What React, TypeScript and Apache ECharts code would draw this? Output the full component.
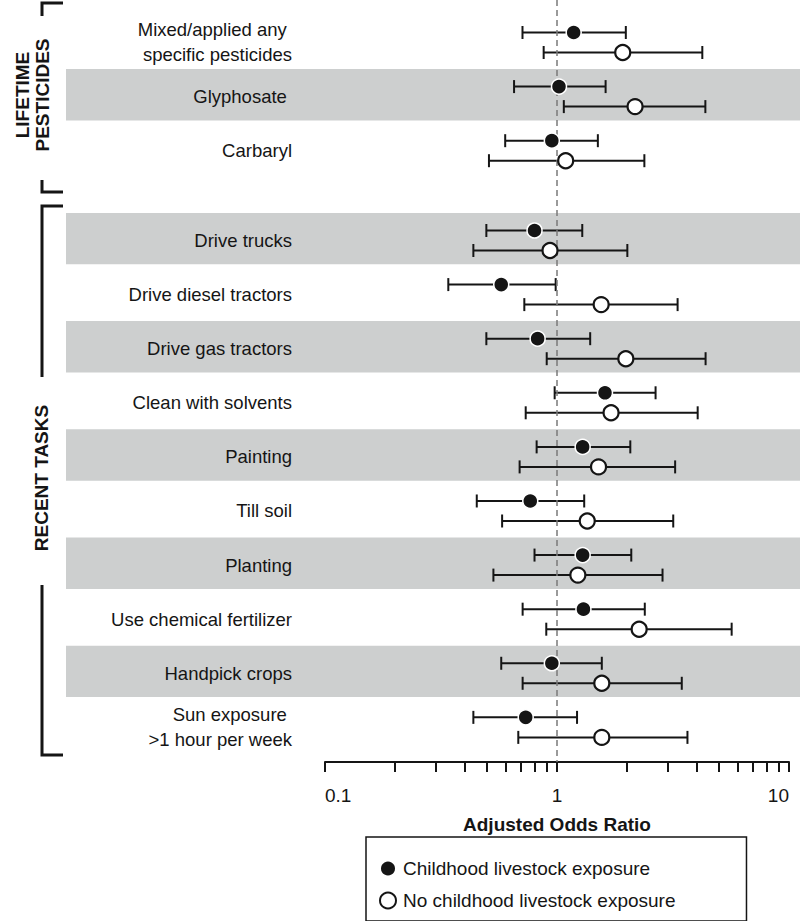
import React, { useEffect, useRef } from "react";
import * as echarts from "echarts";

const categories = [
  "Mixed/applied any\u00a0\nspecific pesticides",
  "Glyphosate\u00a0",
  "Carbaryl",
  "Drive trucks",
  "Drive diesel tractors",
  "Drive gas tractors",
  "Clean with solvents",
  "Painting",
  "Till soil",
  "Planting",
  "Use chemical fertilizer",
  "Handpick crops",
  "Sun exposure\u00a0\n>1 hour per week",
];
const rowPos = [0, 1, 2, 3.66, 4.66, 5.66, 6.66, 7.66, 8.66, 9.66, 10.66, 11.66, 12.66];
const shadedRows = [1, 3, 5, 7, 9, 11];

const childOR = [1.18, 1.02, 0.95, 0.8, 0.575, 0.825, 1.61, 1.29, 0.767, 1.29, 1.3, 0.95, 0.733];
const childLo = [0.71, 0.653, 0.598, 0.496, 0.34, 0.496, 0.977, 0.817, 0.451, 0.8, 0.711, 0.575, 0.436];
const childHi = [1.98, 1.62, 1.5, 1.285, 0.987, 1.39, 2.66, 2.07, 1.31, 2.09, 2.39, 1.56, 1.22];

const noChildOR = [1.92, 2.17, 1.09, 0.933, 1.55, 1.98, 1.71, 1.51, 1.35, 1.23, 2.26, 1.56, 1.56];
const noChildLo = [0.876, 1.07, 0.509, 0.436, 0.723, 0.903, 0.733, 0.69, 0.58, 0.532, 0.899, 0.711, 0.681];
const noChildHi = [4.23, 4.36, 2.38, 2.01, 3.31, 4.37, 4.04, 3.23, 3.17, 2.85, 5.66, 3.45, 3.65];

const tickValues = [0.1, 0.2, 0.3, 0.4, 0.5, 0.6, 0.7, 0.8, 0.9, 1, 2, 3, 4, 5, 6, 7, 8, 9, 10];
const labelValues = [0.1, 1, 10];
const seriesNames = ["Childhood livestock exposure", "No childhood livestock exposure"];

const OFFSET = 0.185;
const FONT = "'Liberation Sans', Arial, Helvetica, sans-serif";
const INK = "#151515";

export default function App() {
  const ref = useRef<HTMLDivElement>(null);
  useEffect(() => {
    if (!ref.current) return;
    const chart = echarts.init(ref.current, null, { renderer: "svg" });

    const errRender = (params: any, api: any) => {
      const lo = api.coord([api.value(0), api.value(2)]);
      const hi = api.coord([api.value(1), api.value(2)]);
      const h = 6.5;
      const st = { stroke: INK, lineWidth: 2 };
      return {
        type: "group",
        children: [
          { type: "line", shape: { x1: lo[0], y1: lo[1], x2: hi[0], y2: hi[1] }, style: st },
          { type: "line", shape: { x1: lo[0], y1: lo[1] - h, x2: lo[0], y2: lo[1] + h }, style: st },
          { type: "line", shape: { x1: hi[0], y1: hi[1] - h, x2: hi[0], y2: hi[1] + h }, style: st },
        ],
      };
    };

    const option: any = {
      animation: false,
      textStyle: { fontFamily: FONT },
      grid: { left: 325, right: 11, top: 0, bottom: 159, containLabel: false },
      xAxis: {
        type: "log",
        logBase: 10,
        min: 0.1,
        max: 10,
        position: "bottom",
        splitLine: { show: false },
        axisLine: { show: true, onZero: false, lineStyle: { color: INK, width: 2 } },
        axisTick: { show: true, length: 10, customValues: tickValues, lineStyle: { color: INK, width: 2 } },
        minorTick: { show: false },
        axisLabel: {
          customValues: labelValues,
          fontSize: 19,
          color: INK,
          margin: 24,
          alignMinLabel: "left",
          alignMaxLabel: "right",
          formatter: (v: number) => String(v),
        },
        name: "Adjusted Odds Ratio",
        nameLocation: "middle",
        nameGap: 53,
        nameTextStyle: { fontSize: 19, fontWeight: "bold", color: INK },
      },
      yAxis: {
        type: "value",
        inverse: true,
        min: -0.7856,
        max: 13.3,
        show: false,
      },
      legend: {
        orient: "vertical",
        left: 366,
        top: 837,
        padding: [22, 71, 11, 13],
        borderColor: INK,
        borderWidth: 1.5,
        itemWidth: 16,
        itemHeight: 16,
        itemGap: 13,
        icon: "circle",
        textStyle: { fontSize: 19, color: INK, padding: [0, 0, 0, 2] },
        data: seriesNames,
      },
      graphic: [
        { type: "polyline", shape: { points: [[42, 16], [42, 3], [63, 3]] }, style: { stroke: INK, lineWidth: 3, fill: null } },
        { type: "polyline", shape: { points: [[42, 180], [42, 192], [63, 192]] }, style: { stroke: INK, lineWidth: 3, fill: null } },
        { type: "polyline", shape: { points: [[63, 206], [42, 206], [42, 377]] }, style: { stroke: INK, lineWidth: 3, fill: null } },
        { type: "polyline", shape: { points: [[42, 585], [42, 755], [63, 755]] }, style: { stroke: INK, lineWidth: 3, fill: null } },
        {
          type: "text",
          x: 32,
          y: 95,
          rotation: Math.PI / 2,
          style: {
            text: "LIFETIME\nPESTICIDES",
            fontSize: 19,
            fontWeight: "bold",
            fontFamily: FONT,
            fill: INK,
            align: "center",
            verticalAlign: "middle",
            lineHeight: 20,
          },
        },
        {
          type: "text",
          x: 41,
          y: 478,
          rotation: Math.PI / 2,
          style: {
            text: "RECENT TASKS",
            fontSize: 19,
            fontWeight: "bold",
            fontFamily: FONT,
            fill: INK,
            align: "center",
            verticalAlign: "middle",
          },
        },
      ],
      series: [
        {
          name: "bands",
          type: "custom",
          z: 0,
          silent: true,
          clip: false,
          encode: { y: 0 },
          data: shadedRows.map((i) => [rowPos[i]]),
          renderItem: (params: any, api: any) => {
            const p = api.value(0);
            const top = api.coord([1, p - 0.51])[1];
            const bot = api.coord([1, p + 0.44])[1];
            const cs = params.coordSys;
            return {
              type: "rect",
              shape: { x: cs.x - 259, y: top, width: cs.width + 259 + 11, height: bot - top },
              style: { fill: "#cdcfcf" },
            };
          },
        },
        {
          name: "labels",
          type: "custom",
          z: 1,
          silent: true,
          clip: false,
          encode: { y: 0 },
          data: rowPos.map((p) => [p]),
          renderItem: (params: any, api: any) => {
            const y = api.coord([1, api.value(0)])[1];
            const cs = params.coordSys;
            return {
              type: "text",
              x: cs.x - 33,
              y: y,
              style: {
                text: categories[params.dataIndex],
                fontSize: 18.5,
                fontFamily: FONT,
                fill: INK,
                align: "right",
                verticalAlign: "middle",
                lineHeight: 25,
              },
            };
          },
        },
        {
          name: "errChild",
          type: "custom",
          z: 2,
          silent: true,
          clip: false,
          encode: { x: [0, 1], y: 2 },
          data: rowPos.map((p, i) => [childLo[i], childHi[i], p - OFFSET]),
          renderItem: errRender,
        },
        {
          name: "errNoChild",
          type: "custom",
          z: 2,
          silent: true,
          clip: false,
          encode: { x: [0, 1], y: 2 },
          data: rowPos.map((p, i) => [noChildLo[i], noChildHi[i], p + OFFSET]),
          renderItem: errRender,
        },
        {
          name: seriesNames[0],
          type: "scatter",
          z: 6,
          symbol: "circle",
          symbolSize: 15,
          itemStyle: { color: INK, borderColor: "#ffffff", borderWidth: 1.5, opacity: 1 },
          data: rowPos.map((p, i) => [childOR[i], p - OFFSET]),
          markLine: {
            silent: true,
            symbol: "none",
            label: { show: false },
            lineStyle: { type: [6, 4], color: "#7a7a7a", width: 1.5 },
            data: [{ xAxis: 1 }],
          },
        },
        {
          name: seriesNames[1],
          type: "scatter",
          z: 6,
          symbol: "circle",
          symbolSize: 15,
          itemStyle: { color: "#ffffff", borderColor: INK, borderWidth: 2.2, opacity: 1 },
          data: rowPos.map((p, i) => [noChildOR[i], p + OFFSET]),
        },
      ],
    };
    chart.setOption(option);
    return () => chart.dispose();
  }, []);
  return <div ref={ref} style={{ width: 800, height: 921, position: "absolute", left: 0, top: 0 }} />;
}
